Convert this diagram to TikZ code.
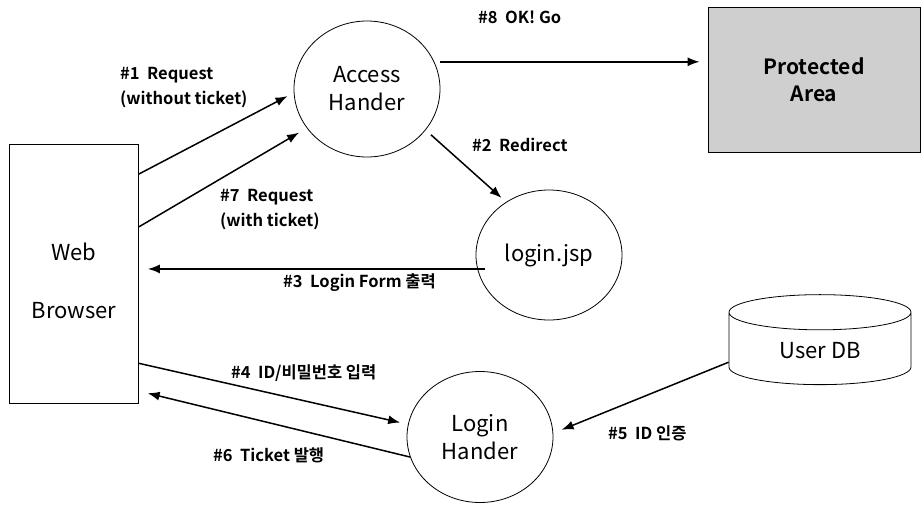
\documentclass[tikz,border=0pt]{standalone}
\usepackage{fontspec}
\setmainfont{Noto Sans CJK KR}[BoldFont={Noto Sans CJK KR Bold}]
\usetikzlibrary{shapes.geometric,arrows.meta}
\begin{document}
\begin{tikzpicture}[x=1pt,y=-1pt]
        \tikzstyle{circ}=[ellipse, draw, line width=0.8pt, inner sep=0pt, minimum width=146pt, align=center, font=\fontsize{22}{28}\selectfont]
        \tikzstyle{box}=[rectangle, draw, line width=0.8pt, align=center, font=\fontsize{22}{28}\selectfont]
        \tikzstyle{lbl}=[anchor=west, align=left, inner sep=0pt, font=\bfseries\fontsize{16.5}{25}\selectfont]
        \tikzstyle{arr}=[-{Latex[length=12pt,width=9pt]}, line width=1.5pt]

        \useasboundingbox (0,0) rectangle (922,506);

        \node[box, minimum width=129pt, minimum height=259pt, label={[yshift=-7pt, align=center, font=\fontsize{22}{28}\selectfont]center:Web\\[30pt]Browser}] (browser) at (74,274) {};
        \node[circ, minimum height=136pt] (access) at (367,89) {Access\\Hander};
        \node[circ, minimum height=130pt] (login) at (549,255) {login.jsp};
        \node[circ, minimum height=131pt] (loginh) at (480,437) {Login\\Hander};
        \node[cylinder, shape border rotate=90, draw, line width=0.8pt, aspect=0.4, minimum width=182pt, minimum height=90pt, font=\fontsize{22}{28}\selectfont] (db) at (820,351) {User DB};
        \node[box, fill=black!19, minimum width=212pt, minimum height=145pt, font=\bfseries\fontsize{21}{27}\selectfont] (prot) at (814,80) {Protected\\Area};

        \draw[arr, shorten >=7pt] (browser.57) -- (access.183);
        \draw[arr, shorten >=9pt] (browser.36) -- (access.213);
        \draw[arr, shorten <=6pt, shorten >=8pt] (access.22) -- (access.22 -| prot.west);
        \draw[arr, shorten <=7pt, shorten >=6pt] (access.-35) -- (login.129);
        \draw[arr, shorten <=-8pt, shorten >=9pt] (login.191) -- (login.191 -| browser.east);
        \draw[arr, shorten >=8pt] (browser.-54) -- (loginh.170);
        \draw[arr, shorten >=9pt] (db.187) -- (loginh.3);
        \draw[arr, shorten >=9pt] (loginh.196) -- (browser.-61);

        \node[lbl] (l1) at (120,88) {\#1\ \ Request\\(without ticket)};
        \node[lbl] (l7) at (220,210) {\#7\ \ Request\\(with ticket)};
        \node[lbl] (l8) at (478,17) {\#8\ \ OK! Go};
        \node[lbl] (l2) at (472,145) {\#2\ \ Redirect};
        \node[lbl] (l3) at (283,283) {\#3\ \ Login Form 출력};
        \node[lbl] (l4) at (231,373) {\#4\ \ ID/비밀번호 입력};
        \node[lbl] (l6) at (213,455) {\#6\ \ Ticket 발행};
        \node[lbl] (l5) at (608,433) {\#5\ \ ID 인증};
    \end{tikzpicture}
\end{document}
